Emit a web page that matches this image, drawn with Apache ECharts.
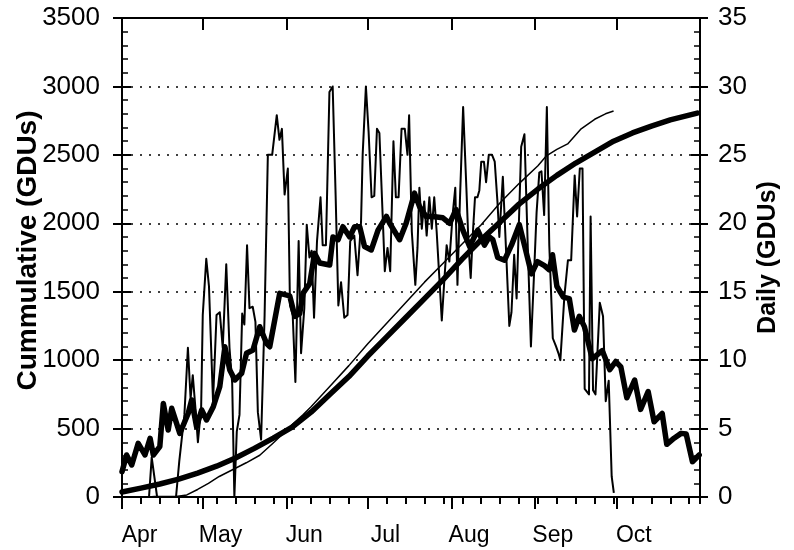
<!DOCTYPE html>
<html><head><meta charset="utf-8">
<script src="https://cdn.jsdelivr.net/npm/echarts@6/dist/echarts.min.js"></script>
<style>html,body{margin:0;padding:0;background:#fff}#c{width:794px;height:550px}</style>
</head><body><div id="c"></div>
<script>
// Day index: 0 = Apr 1
const monthStarts = [0, 30, 61, 91, 122, 153, 183];
const monthNames = ['Apr', 'May', 'Jun', 'Jul', 'Aug', 'Sep', 'Oct'];

// Average cumulative GDUs [day, value]
const avgCumulative = [[0,37],[7,65],[14,95],[21,130],[28,175],[35,225],[42,285],[49,355],[56,430],[63,510],[70,620],[77,750],[84,880],[91,1030],[98,1170],[105,1310],[112,1450],[119,1590],[126,1740],[133,1880],[140,2010],[147,2140],[154,2250],[161,2350],[168,2440],[175,2520],[182,2600],[189,2660],[196,2710],[203,2755],[210,2790],[213,2805]];

// This-year cumulative GDUs [day, value]
const yearCumulative = [[0,0],[10,0],[12,3],[20,3],[24,15],[28,55],[32,100],[36,150],[42,210],[46,250],[51,305],[56,395],[60,470],[63,530],[67,600],[70,660],[77,810],[84,960],[91,1120],[98,1270],[105,1420],[112,1570],[119,1710],[126,1850],[133,1990],[140,2150],[147,2290],[154,2420],[157,2490],[161,2540],[165,2580],[170,2690],[175,2760],[179,2800],[182,2820]];

// Average daily GDUs [day, value]
const avgDaily = [[0,1.85],[1.7,3.07],[3.6,2.34],[6,3.92],[8.5,3.07],[10.4,4.29],[11.6,3.07],[14,3.68],[15.3,6.84],[17.1,4.9],[18.4,6.48],[20.2,5.38],[21.4,4.65],[24.5,6.1],[25.8,7.09],[27.6,5.14],[29.5,6.36],[31.3,5.63],[33.8,6.6],[36.2,8.06],[38.1,10.98],[39.9,9.28],[41.8,8.55],[44.3,9.04],[46.1,10.5],[48.5,10.74],[51,12.44],[53.5,11.23],[54.7,10.98],[58.4,14.88],[62.1,14.7],[64,13.2],[65.8,13.4],[67,14.88],[69.5,15.6],[71.3,17.8],[73.2,17.1],[76.9,16.95],[78.1,19.0],[80,18.8],[81.8,19.75],[84.3,19.0],[86.1,19.75],[88,19.75],[89.8,18.3],[92.3,18.05],[94.8,19.5],[97.9,20.5],[99.1,20.0],[102.8,18.8],[105.2,20.0],[108.3,22.2],[110.2,21.2],[112.6,20.5],[115,20.5],[118.8,20.4],[121.3,20.0],[123.7,21.0],[126.2,19.5],[128.7,18.3],[131.7,19.5],[134.2,18.4],[136,19.0],[137.3,18.8],[139.1,17.5],[141.6,17.3],[144.2,18.4],[147.1,19.9],[149,18.4],[151.6,16.3],[153.8,17.2],[156.4,16.9],[158.2,16.6],[159.4,17.7],[161,15.4],[163.4,14.6],[165.6,14.5],[167.5,12.2],[169.3,13.2],[171.2,12.45],[174.1,10.1],[177.8,10.7],[180.6,9.3],[182.8,9.9],[184.7,9.5],[186.9,7.25],[189.8,8.55],[192,6.4],[194.8,7.7],[197,5.5],[200,6.1],[201.7,3.85],[204.4,4.3],[207,4.65],[208.9,4.6],[211.2,2.58],[213.7,3.07]];

// This-year daily GDUs [day, value]
const yearDaily = [[0,0],[10,0],[11,2.9],[13,0],[20,0],[21.2,2.6],[23.1,6.0],[24.4,10.9],[25.4,7.2],[26.2,8.9],[27.3,6.2],[28.1,4.0],[29.3,6.5],[29.9,13.3],[31.2,17.4],[32.2,15.4],[33.7,7.0],[35,13.3],[36.2,13.5],[37.3,10.9],[38.6,17.0],[39.8,10.9],[40.8,8.3],[41.6,0],[42.5,4.8],[43.5,6.0],[44.5,13.4],[45.3,12.6],[46.3,18.4],[47.2,13.8],[48.4,13.9],[49.4,12.8],[50.3,6.2],[51.5,4.2],[52.8,13.3],[54,25.0],[55.6,25.0],[57.3,27.9],[58.3,26.1],[59.2,26.9],[60.2,22.1],[61.4,24.0],[62.2,14.0],[63.2,13.3],[64.2,8.4],[65.4,18.7],[66.3,10.5],[67.5,13.8],[68.4,19.9],[69.4,17.5],[70.2,18.0],[71.1,13.1],[72.2,18.7],[73.5,21.9],[74.3,18.4],[75.5,18.4],[76.8,29.6],[78,30.0],[79.1,22.0],[80.1,14.0],[81.1,15.7],[82.3,13.1],[83.5,13.3],[84.5,18.7],[86,19.1],[87.2,16.2],[88.5,20.1],[89.1,25.0],[90.3,30.0],[91.3,26.7],[92.4,21.9],[93.4,22.0],[94.4,26.9],[95.3,26.6],[96.5,20.6],[97.3,16.5],[98.3,18.2],[99.3,16.5],[100.5,26.0],[101.4,21.9],[102.4,21.9],[103.5,26.9],[104.7,26.9],[105.7,25.0],[106.3,27.9],[107.3,19.4],[108.6,15.5],[109.4,18.2],[110.1,22.6],[111,19.6],[111.9,21.6],[112.8,19.1],[113.8,21.9],[114.7,19.6],[115.6,21.9],[116.5,19.4],[117.5,16.0],[118.4,12.9],[119.3,15.7],[120.2,18.4],[121.2,17.2],[122.4,20.6],[123.4,22.6],[124.2,15.5],[125.1,21.6],[126.3,28.5],[127.5,22.6],[128.3,18.4],[129.1,16.0],[130,19.6],[130.7,21.9],[131.6,21.9],[132.3,22.4],[133,24.5],[134,24.5],[134.8,23.0],[135.8,25.0],[137,25.0],[138,24.5],[139,21.6],[139.7,19.0],[141,23.4],[142.2,18.0],[143.4,12.5],[144.2,13.5],[145.2,17.7],[146.1,14.5],[147.8,25.6],[149,26.5],[150.2,18.5],[151.4,11.0],[152.6,16.5],[153.5,20.8],[154.5,23.7],[155.3,23.8],[156.3,20.6],[157.3,28.5],[158.2,18.4],[159.5,11.6],[160.7,11.0],[161.6,10.5],[162.3,10.0],[163.8,14.7],[165.1,17.3],[166.3,17.3],[167.6,23.5],[168.5,20.5],[169.5,24.0],[170.5,24.0],[171.3,7.9],[172.9,7.5],[173.5,20.5],[174.4,7.8],[175.3,7.5],[176.9,14.2],[178.1,13.2],[179.1,7.0],[180.2,8.5],[181.3,1.5],[182.1,0.3]];

const FONT = '"Liberation Sans", Arial, sans-serif';
const LABEL_SHIFT = 6.5;
const labelPos = monthStarts.map(d => d + LABEL_SHIFT);
const BLACK = '#000';

const chart = echarts.init(document.getElementById('c'), null, {renderer: 'canvas'});
const baseX = {type: 'value', min: 0, max: 214, splitLine: {show: false}};
const plain = v => String(v);
const option = {
  animation: false,
  backgroundColor: '#fff',
  grid: {left: 122, right: 94, top: 18, bottom: 53, containLabel: false, outerBoundsMode: 'none'},
  xAxis: [
    Object.assign({}, baseX, {
      position: 'bottom',
      axisLine: {show: true, onZero: false, lineStyle: {color: BLACK, width: 2}},
      axisTick: {show: true, customValues: monthStarts, length: 12, lineStyle: {color: BLACK, width: 2}},
      axisLabel: {show: true, customValues: labelPos, formatter: v => { const i = labelPos.indexOf(v); return i >= 0 ? monthNames[i] : ''; }, fontSize: 23, color: BLACK, fontFamily: FONT, margin: 27}
    }),
    Object.assign({}, baseX, {
      position: 'bottom', interval: 7,
      axisLine: {show: false, onZero: false},
      axisTick: {show: true, length: 7, lineStyle: {color: BLACK, width: 2}},
      axisLabel: {show: false}
    }),
    Object.assign({}, baseX, {
      position: 'top',
      axisLine: {show: true, onZero: false, lineStyle: {color: BLACK, width: 2}},
      axisTick: {show: true, inside: true, customValues: monthStarts, length: 12, lineStyle: {color: BLACK, width: 2}},
      axisLabel: {show: false}
    })
  ],
  yAxis: [
    {type: 'value', position: 'left', min: 0, max: 3500, interval: 500,
     name: 'Cummulative (GDUs)', nameLocation: 'middle', nameGap: 80, nameRotate: 90, nameMoveOverlap: false,
     nameTextStyle: {fontSize: 28, fontWeight: 'bold', color: BLACK, fontFamily: FONT, padding: [0, 0, 0, 14]},
     axisLine: {show: true, onZero: false, lineStyle: {color: BLACK, width: 2}},
     axisTick: {show: true, inside: true, length: 9, lineStyle: {color: BLACK, width: 2}},
     minorTick: {show: true, splitNumber: 5, length: 6, lineStyle: {color: BLACK, width: 1.5}},
     axisLabel: {fontSize: 26, color: BLACK, fontFamily: FONT, margin: 22, formatter: plain},
     splitLine: {show: true, lineStyle: {color: BLACK, width: 1.5, type: [2, 7]}}},
    {type: 'value', position: 'right', min: 0, max: 35, interval: 5,
     name: 'Daily (GDUs)', nameLocation: 'middle', nameGap: 56, nameRotate: 90, nameMoveOverlap: false,
     nameTextStyle: {fontSize: 25, fontWeight: 'bold', color: BLACK, fontFamily: FONT},
     axisLine: {show: true, onZero: false, lineStyle: {color: BLACK, width: 2}},
     axisTick: {show: true, inside: true, length: 9, lineStyle: {color: BLACK, width: 2}},
     minorTick: {show: true, splitNumber: 5, length: 6, lineStyle: {color: BLACK, width: 1.5}},
     axisLabel: {fontSize: 26, color: BLACK, fontFamily: FONT, margin: 18, formatter: plain},
     splitLine: {show: false}},
    {type: 'value', position: 'left', min: 0, max: 3500, interval: 500,
     axisLine: {show: false, onZero: false},
     axisTick: {show: true, length: 9, lineStyle: {color: BLACK, width: 2}},
     axisLabel: {show: false}, splitLine: {show: false}},
    {type: 'value', position: 'right', min: 0, max: 35, interval: 5,
     axisLine: {show: false, onZero: false},
     axisTick: {show: true, length: 8, lineStyle: {color: BLACK, width: 2}},
     axisLabel: {show: false}, splitLine: {show: false}}
  ],
  series: [
    {name: 'Avg cumulative', type: 'line', yAxisIndex: 0, data: avgCumulative, showSymbol: false, symbol: 'none',
     lineStyle: {color: BLACK, width: 5.5, cap: 'round', join: 'round'}},
    {name: 'Year cumulative', type: 'line', yAxisIndex: 0, data: yearCumulative, showSymbol: false, symbol: 'none',
     lineStyle: {color: BLACK, width: 1.5, join: 'round'}},
    {name: 'Avg daily', type: 'line', yAxisIndex: 1, data: avgDaily, showSymbol: false, symbol: 'none',
     lineStyle: {color: BLACK, width: 5.5, cap: 'round', join: 'round'}},
    {name: 'Year daily', type: 'line', yAxisIndex: 1, data: yearDaily, showSymbol: false, symbol: 'none',
     lineStyle: {color: BLACK, width: 2, join: 'round'}}
  ]
};
chart.setOption(option);
</script>
</body></html>
